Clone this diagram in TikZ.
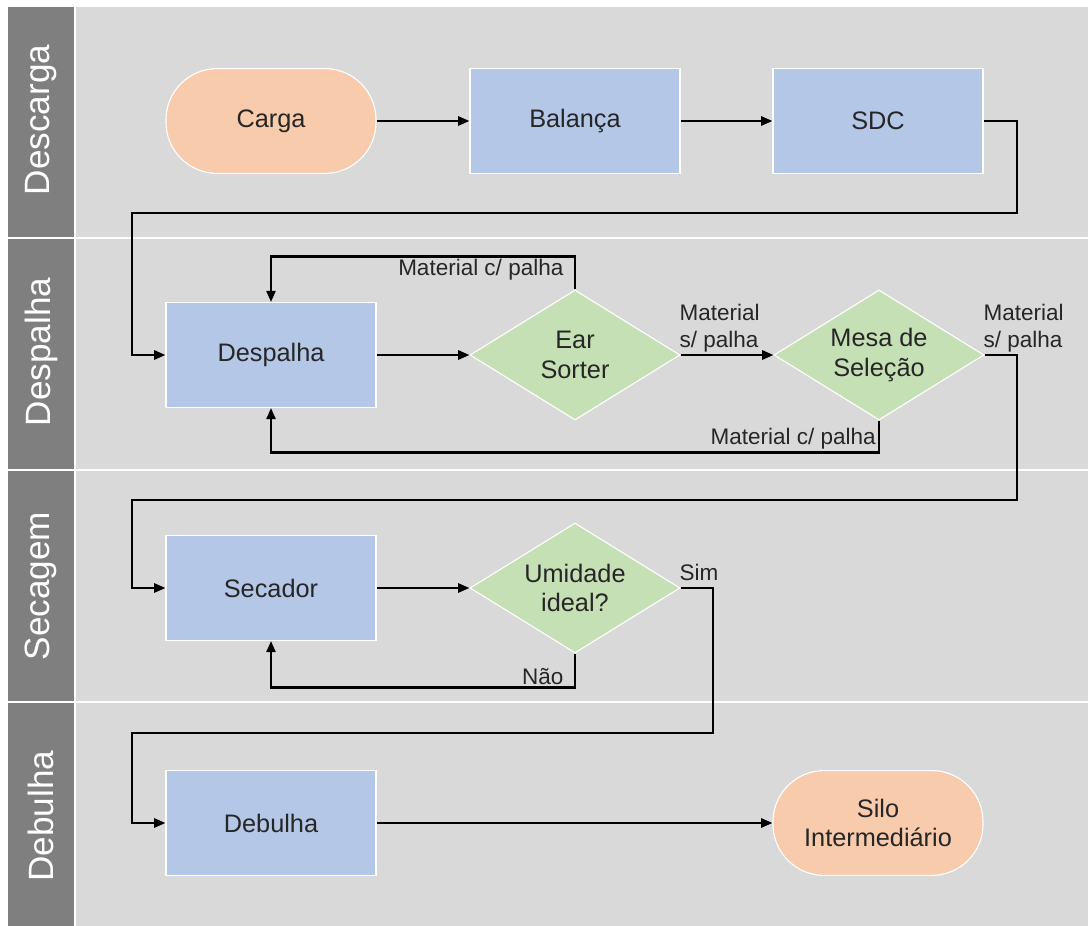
\documentclass[tikz,border=0pt]{standalone}
\usepackage{fontspec}
\setmainfont{Liberation Sans}
\usetikzlibrary{shapes.geometric,arrows.meta}
\definecolor{lanegray}{HTML}{7F7F7F}
\definecolor{lanebg}{HTML}{D9D9D9}
\definecolor{procblue}{HTML}{B4C7E7}
\definecolor{decgreen}{HTML}{C5E0B4}
\definecolor{termorange}{HTML}{F8CBAD}
\definecolor{textdark}{HTML}{262626}
\tikzset{
  proc/.style = {rectangle, fill=procblue, draw=white, line width=0.8pt,
                 minimum width=5.25cm, minimum height=2.62cm, align=center,
                 text=textdark, font=\fontsize{18}{21}\selectfont},
  term/.style = {proc, fill=termorange, rounded corners=1.28cm},
  dec/.style  = {diamond, aspect=1.6, fill=decgreen, draw=white, line width=0.8pt,
                 minimum width=5.25cm, minimum height=3.25cm, inner sep=0pt,
                 align=center, text=textdark, font=\fontsize{18}{21}\selectfont},
  flow/.style = {-{Triangle[length=8pt,width=6.5pt]}, line width=1.6pt, black},
  lbl/.style  = {font=\fontsize{16}{19}\selectfont, text=textdark, align=left, inner sep=1.5pt},
  lane/.style = {rotate=90, text=white, font=\fontsize{25}{28}\selectfont}
}

\begin{document}
\begin{tikzpicture}[x=0.025cm, y=-0.025cm]
	\def \left{132}  % left return line
	\def \right{1017} % right return line
	
	\useasboundingbox (0,0) rectangle (1088,926);
	
	% Lanes
	\fill[lanegray] (8,7) rectangle (74,926);
	\fill[lanebg] (76,7) rectangle (1088,926);
	\draw[white, line width=1.5pt] (8,238) -- (1088,238);
	\draw[white, line width=1.5pt] (8,470) -- (1088,470);
	\draw[white, line width=1.5pt] (8,702) -- (1088,702);
	
	% Lane names
	\node[lane] (l1) at (41,120) {Descarga};
	\node[lane] (l2) at (41,352) {Despalha};
	\node[lane] (l3) at (41,586) {Secagem};
	\node[lane] (l4) at (41,816) {Debulha};
	
	% Descarga
	\node[term] (carga)   at (271,121) {Carga};
	\node[proc] (balanca) at (575,121) {Balança};
	\node[proc] (sdc)     at (878,121) {SDC};
	
	% Despalha
	\node[proc] (despalha) at (271,355) {Despalha};
	\node[dec]  (ear)      at (575,355) {Ear\\Sorter};
	\node[dec]  (mesa)     at (879,355) {Mesa de\\Seleção};
	
	% Secagem
	\node[proc] (secador) at (271,588) {Secador};
	\node[dec]  (umid)    at (575,588) {Umidade\\ideal?};
	
	% Debulha
	\node[proc] (debulha) at (271,823) {Debulha};
	\node[term] (silo)    at (878,823) {Silo\\Intermediário};
	
	% Arrows
	\draw[flow] (carga) -- (balanca);
	\draw[flow] (balanca) -- (sdc);
	\draw[flow] (sdc.east) -- (\right,121) |- (\left,213) |- (despalha.west);
	\draw[flow] (despalha) -- (ear);
	\draw[flow] (ear.north) -- ++(0,-33) node[lbl, anchor=north east, xshift=-6pt] {Material c/ palha} -| (despalha.north);
	\draw[flow] (ear.east) node[lbl, anchor=south west, xshift=-3pt] {Material\\s/ palha} -- (mesa.west);
	\draw[flow] (mesa.south) -- ++(0,32) node[lbl, anchor=south east] {Material c/ palha} -| (despalha.south);
	\draw[flow] (mesa.east) node[lbl, anchor=south west, xshift=-3pt] {Material\\s/ palha} -- (\right,355) |- (\left,500) |- (secador.west);
	\draw[flow] (secador) -- (umid);
	\draw[flow] (umid.south) -- ++(0,34) node[lbl, anchor=south east, xshift=-6pt] {Não} -| (secador.south);
	\draw[flow] (umid.east) node[lbl, anchor=south west, xshift=-3pt, yshift=3pt] {Sim} -- (713,588) |- (\left,733) |- (debulha.west);
	\draw[flow] (debulha) -- (silo);
	
\end{tikzpicture}
\end{document}
